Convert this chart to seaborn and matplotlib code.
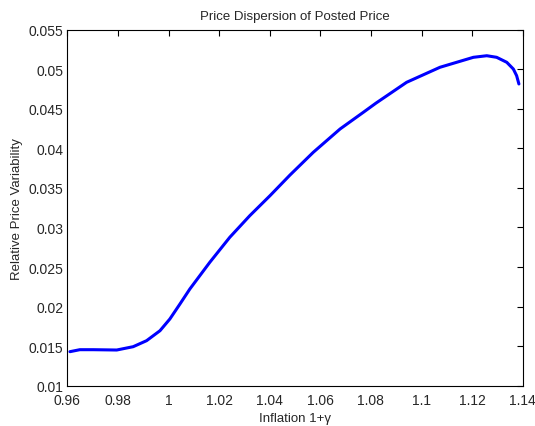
import matplotlib
matplotlib.use("Agg")
import matplotlib.pyplot as plt
import seaborn as sns
import pandas as pd

inflation = [0.9610, 0.9649, 0.9702, 0.9795, 0.9860, 0.9913, 0.9966, 1.0005,
             1.0045, 1.0084, 1.0163, 1.0242, 1.0321, 1.0401, 1.0480, 1.0572,
             1.0678, 1.0770, 1.0820, 1.0941, 1.1073, 1.1205, 1.1258, 1.1297,
             1.1337, 1.1363, 1.1376, 1.1385]
variability = [0.01430, 0.01455, 0.01455, 0.01451, 0.01493, 0.01569, 0.01695, 0.01843,
               0.02033, 0.02222, 0.02560, 0.02876, 0.03149, 0.03402, 0.03663, 0.03950,
               0.04245, 0.04456, 0.04572, 0.04835, 0.05025, 0.05151, 0.05171, 0.05151,
               0.05088, 0.05003, 0.04919, 0.04814]
xticks = [0.96, 0.98, 1, 1.02, 1.04, 1.06, 1.08, 1.1, 1.12, 1.14]
xticklabels = ["0.96", "0.98", "1", "1.02", "1.04", "1.06", "1.08", "1.1", "1.12", "1.14"]
yticks = [0.01, 0.015, 0.02, 0.025, 0.03, 0.035, 0.04, 0.045, 0.05, 0.055]
yticklabels = ["0.01", "0.015", "0.02", "0.025", "0.03", "0.035", "0.04", "0.045", "0.05", "0.055"]

df = pd.DataFrame({"x": inflation, "y": variability})

sns.set_style("white")
plt.rcParams['font.family'] = ['Liberation Sans', 'DejaVu Sans']
plt.rcParams['xtick.direction'] = 'in'
plt.rcParams['ytick.direction'] = 'in'

fig = plt.figure(figsize=(5.35, 4.27), dpi=100)
ax = fig.add_axes([0.126, 0.0944, 0.851, 0.8337])
sns.lineplot(data=df, x="x", y="y", ax=ax, color="#0000ff", linewidth=2.2, sort=False)

ax.set_xlim(0.96, 1.14)
ax.set_ylim(0.01, 0.055)
ax.set_xticks(xticks)
ax.set_xticklabels(xticklabels)
ax.set_yticks(yticks)
ax.set_yticklabels(yticklabels)
ax.tick_params(axis='both', which='both', direction='in', length=4, width=0.8,
               top=True, right=True, labelsize=10, color='black', pad=3)
ax.tick_params(axis='x', pad=5)
for s in ax.spines.values():
    s.set_visible(True)
    s.set_color('black')
    s.set_linewidth(0.8)
ax.set_title("Price Dispersion of Posted Price", fontsize=9.5, pad=8)
ax.set_xlabel("Inflation 1+γ", fontsize=9.5, labelpad=4)
ax.set_ylabel("Relative Price Variability", fontsize=9.5, labelpad=4)
fig.savefig("out.png", dpi=100, facecolor="white")
